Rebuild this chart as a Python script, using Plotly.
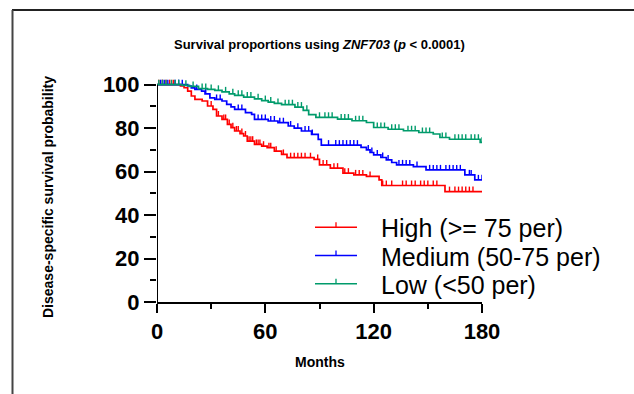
import numpy as np
import plotly.graph_objects as go

# ---------------- data ----------------
months_ticks = [0, 60, 120, 180]
surv_ticks = [0, 20, 40, 60, 80, 100]

high_t = [0, 13, 15, 17, 19, 21, 25, 28, 31, 33, 36, 39, 41, 43, 46, 48, 50, 54, 58, 61,
          65, 69, 72, 87, 90, 96, 103, 109, 116, 123, 124.5, 159.5]
high_s = [100, 99.5, 98.6, 97, 94.8, 93.2, 92.5, 90.2, 88.6, 85.6, 84, 81.7, 80.2, 78.7, 77.5,
          76.4, 74, 72.5, 71.7, 71, 69.4, 67.9, 66.4, 65.6, 63.1, 61.6, 59.3, 58.5, 57.8, 56.2,
          53.6, 50.8]
high_cens = [1, 3, 5, 7, 9, 30, 34, 37, 38, 40, 42, 44, 45, 47, 49, 51, 52, 53, 55, 56, 57, 59,
             62, 63, 66, 70, 74, 76, 78, 80, 82, 85, 89, 92, 94, 98, 100, 104, 106, 110, 112,
             114, 118, 125, 127, 130, 136, 138, 141, 143, 146, 148, 150, 153, 155, 162, 165,
             167, 169, 171, 173, 175]

med_t = [0, 17, 19, 21, 24.7, 26.6, 29.3, 32, 36, 38.6, 41, 43, 49, 52.4, 54, 61.6, 67, 72.7,
         76, 80, 85.6, 89.3, 91, 113, 116, 118, 120, 124, 127, 130, 132.7, 142, 149, 170.5, 176]
med_s = [100, 99.4, 98.5, 97.8, 97, 95.8, 93.9, 93.2, 92.5, 90.9, 89.8, 88.6, 87.1, 86.3, 84,
         83.3, 82.5, 81, 80, 78.7, 77.1, 74.8, 72.2, 71.2, 70, 68.8, 67.7, 66.5, 65.4, 64.2,
         63.1, 62.3, 60.8, 58.5, 56.2]
med_cens = [2, 4, 6, 10, 12, 14, 22, 27, 33, 35, 45, 47, 56, 58, 60, 63, 65, 68, 70, 74, 78,
            82, 84, 86, 95, 99, 101, 103, 105, 107, 109, 111, 117, 119, 122, 125, 128, 134,
            136, 138, 140, 144, 151, 153, 155, 157, 160, 162, 164, 166, 168, 173, 174, 178, 180]

low_t = [0, 14, 18, 23, 28, 32, 36, 40, 43, 48, 54, 58, 61.6, 65, 69, 76.4, 81, 84, 88, 100,
         108, 116, 120, 128, 136.5, 145, 153, 156.7, 162, 179]
low_s = [100, 99.7, 99.2, 98.2, 97.8, 97.4, 96.7, 95.8, 95.1, 94.3, 93.5, 92.7, 92, 91.4, 90.8,
         89.7, 88.2, 86.2, 85, 84.2, 83.4, 82.6, 80.3, 79.5, 78.8, 78, 77.3, 75.7, 74.9, 73.5]
low_cens = [1, 3, 5, 8, 10, 12, 16, 20, 25, 27, 30, 34, 38, 42, 45, 47, 50, 52, 56, 60, 63, 67,
            71, 73, 75, 78, 80, 83, 90, 93, 95, 97, 102, 104, 106, 110, 112, 114, 122, 124,
            126, 130, 132, 134, 139, 141, 143, 147, 149, 151, 158, 160, 165, 167, 169, 171,
            174, 176, 178, 180]

groups = [
    ("High (>= 75 per)", high_t, high_s, high_cens, "#FF0000"),
    ("Medium (50-75 per)", med_t, med_s, med_cens, "#0000FF"),
    ("Low (<50 per)", low_t, low_s, low_cens, "#009B6B"),
]

# ---------------- layout geometry (pixels) ----------------
W, H = 634, 394
L, R, T, B = 157, 152, 76, 92
PW, PH = W - L - R, H - T - B


def px(x):
    return (x - L) / PW


def py(y):
    return (H - B - y) / PH


FONT = "Liberation Sans, Arial, sans-serif"
TICK_H = 2.3  # censor tick height (survival units)

fig = go.Figure()
for name, t, s, cens, col in groups:
    xs = list(t) + [180]
    ys = list(s) + [s[-1]]
    fig.add_trace(go.Scatter(x=xs, y=ys, mode="lines", line=dict(color=col, width=1.7, shape="hv"),
                             showlegend=False, name=name))
    ta = np.array(t)
    sa = np.array(s)
    cx, cy = [], []
    for c in cens:
        v = sa[np.searchsorted(ta, c, side="right") - 1]
        cx += [c, c, None]
        cy += [v, v + TICK_H, None]
    fig.add_trace(go.Scatter(x=cx, y=cy, mode="lines", line=dict(color=col, width=1.4),
                             showlegend=False, hoverinfo="skip"))

shapes = []
annotations = []

# y-axis line from 0 to 100 only
shapes.append(dict(type="line", xref="x", yref="y", x0=0, x1=0, y0=0, y1=100,
                   line=dict(color="black", width=2)))

# frame lines (top and left)
shapes.append(dict(type="line", xref="paper", yref="paper", x0=px(12), x1=px(634), y0=py(10), y1=py(10),
                   line=dict(color="#222222", width=2)))
shapes.append(dict(type="line", xref="paper", yref="paper", x0=px(12.5), x1=px(12.5), y0=py(10), y1=py(394),
                   line=dict(color="#444444", width=2)))

# manual legend
leg_y = [227.3, 255.5, 283.7]
for (name, t, s, cens, col), yy in zip(groups, leg_y):
    shapes.append(dict(type="line", xref="paper", yref="paper", x0=px(315), x1=px(357), y0=py(yy), y1=py(yy),
                       line=dict(color=col, width=1.5)))
    shapes.append(dict(type="line", xref="paper", yref="paper", x0=px(336), x1=px(336), y0=py(yy), y1=py(yy - 5),
                       line=dict(color=col, width=1.3)))
    annotations.append(dict(xref="paper", yref="paper", x=px(379), y=py(yy + 1), xanchor="left", yanchor="middle",
                            text=name.replace("<", "&lt;").replace(">", "&gt;"), showarrow=False,
                            font=dict(family=FONT, size=25, color="black")))

# title
annotations.append(dict(xref="paper", yref="paper", x=px(319), y=py(45), xanchor="center", yanchor="middle",
                        text="<b>Survival proportions using <i>ZNF703</i> (<i>p</i> &lt; 0.0001)</b>",
                        showarrow=False, font=dict(family=FONT, size=13, color="black")))
# axis titles
annotations.append(dict(xref="paper", yref="paper", x=px(320), y=py(362), xanchor="center", yanchor="middle",
                        text="<b>Months</b>", showarrow=False, font=dict(family=FONT, size=14, color="black")))
annotations.append(dict(xref="paper", yref="paper", x=px(48), y=py(197), xanchor="center", yanchor="middle",
                        text="<b>Disease-specific survival probability</b>", textangle=-90, showarrow=False,
                        font=dict(family=FONT, size=14, color="black")))

fig.update_layout(
    width=W, height=H,
    margin=dict(l=L, r=R, t=T, b=B),
    paper_bgcolor="white", plot_bgcolor="white",
    shapes=shapes, annotations=annotations,
    showlegend=False,
)
fig.update_xaxes(range=[0, 180], tickvals=months_ticks, ticks="outside", ticklen=9, tickwidth=2,
                 tickcolor="black", showline=True, linewidth=2, linecolor="black", showgrid=False,
                 zeroline=False, tickfont=dict(family=FONT, size=22, color="black", weight="bold"),
                 minor=dict(tickvals=[30, 90, 150], ticks="outside", ticklen=5, tickwidth=2, tickcolor="black"))
fig.update_yaxes(range=[0, 104], tickvals=surv_ticks, ticks="outside", ticklen=12, tickwidth=2,
                 tickcolor="black", showline=False, showgrid=False, zeroline=False,
                 tickfont=dict(family=FONT, size=22, color="black", weight="bold"),
                 minor=dict(tickvals=[10, 30, 50, 70, 90], ticks="outside", ticklen=6, tickwidth=2,
                            tickcolor="black"))

fig.write_html("out.html")
